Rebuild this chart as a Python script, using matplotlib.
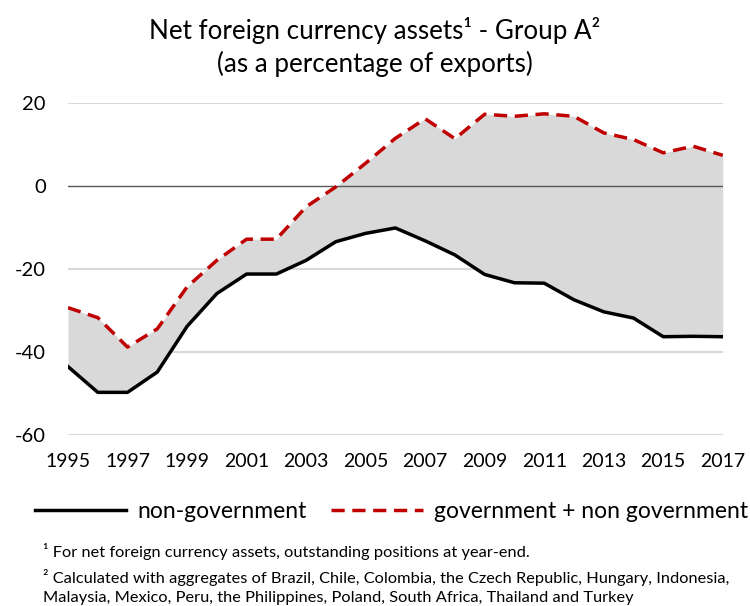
import matplotlib
matplotlib.use("Agg")
import matplotlib.pyplot as plt
from matplotlib.lines import Line2D

plt.rcParams['font.family'] = ['Lato', 'DejaVu Sans']

years = list(range(1995, 2018))
non_gov = [-43.5, -49.7, -49.7, -44.8, -33.8, -25.9, -21.2, -21.2, -17.9, -13.4,
           -11.4, -10.1, -13.2, -16.6, -21.3, -23.3, -23.4, -27.4, -30.3, -31.8,
           -36.3, -36.2, -36.3]
gov_non_gov = [-29.3, -31.7, -38.8, -34.4, -24.3, -17.9, -12.8, -12.8, -5.0, -0.2,
               5.5, 11.5, 16.2, 11.4, 17.3, 16.8, 17.4, 16.8, 12.8, 11.2,
               8.0, 9.6, 7.4]
xticks = list(range(1995, 2018, 2))
yticks = [-60, -40, -20, 0, 20]

fig = plt.figure(figsize=(7.5, 6.06), dpi=100)
ax = fig.add_axes([0.0907, 0.282, 0.873, 0.548])

dash = (0, (3.8, 2.2))
ax.fill_between(years, non_gov, gov_non_gov, color='#d9d9d9', lw=0, zorder=1)
for y in yticks:
    if y == 0:
        ax.axhline(y, color='#595959', lw=1.0, zorder=2)
    else:
        ax.axhline(y, color='#d9d9d9', lw=1.5, zorder=0)
ax.plot(years, non_gov, color='black', lw=2.5, zorder=3)
ax.plot(years, gov_non_gov, color='#c00000', lw=2.5, ls=dash, zorder=3)

ax.set_xlim(1995, 2017)
ax.set_ylim(-60, 20)
ax.set_xticks(xticks)
ax.set_xticklabels([str(x) for x in xticks], fontsize=14)
ax.set_yticks(yticks)
ax.set_yticklabels([str(y) for y in yticks], fontsize=14.5)
ax.tick_params(axis='x', length=0, pad=13)
ax.tick_params(axis='y', length=0, pad=16)
for s in ax.spines.values():
    s.set_visible(False)

fig.text(0.5, 1 - 30/606, 'Net foreign currency assets¹ - Group A²', ha='center', va='center', fontsize=18.7)
fig.text(0.5, 1 - 64/606, '(as a percentage of exports)', ha='center', va='center', fontsize=18.7)

handles = [Line2D([], [], color='black', lw=2.5),
           Line2D([], [], color='#c00000', lw=2.5, ls=dash)]
fig.legend(handles, ['non-government', 'government + non government'],
           loc='center', bbox_to_anchor=(0.522, 1 - 512/606), ncol=2, frameon=False,
           fontsize=16.5, handlelength=4.0, columnspacing=1.05, handletextpad=0.5)

fig.text(0.057, 1 - 551/606, '¹ For net foreign currency assets, outstanding positions at year-end.', fontsize=11.8, va='center')
fig.text(0.057, 1 - 577/606, '² Calculated with aggregates of Brazil, Chile, Colombia, the Czech Republic, Hungary, Indonesia,', fontsize=11.8, va='center')
fig.text(0.057, 1 - 598/606, 'Malaysia, Mexico, Peru, the Philippines, Poland, South Africa, Thailand and Turkey', fontsize=11.8, va='center')

fig.savefig('out.png', dpi=100)
